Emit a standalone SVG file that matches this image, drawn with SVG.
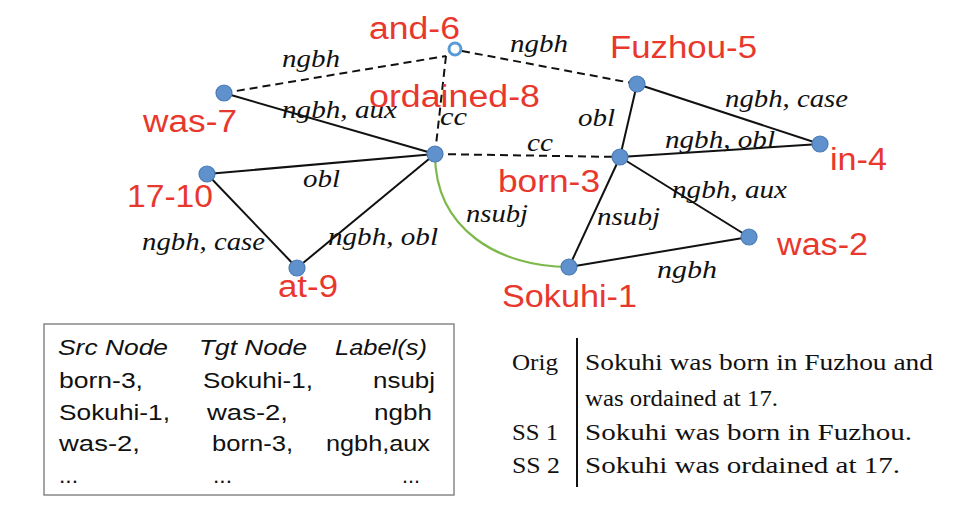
<svg xmlns="http://www.w3.org/2000/svg" width="958" height="510" viewBox="0 0 958 510">
<style>
.e{stroke:#111;stroke-width:2;fill:none}
.d{stroke:#111;stroke-width:2;fill:none;stroke-dasharray:8 5}
.g{stroke:#7cb84a;stroke-width:2.2;fill:none}
.n{fill:#5f92cc;stroke:#4a7bb5;stroke-width:1.2}
.o{fill:#fff;stroke:#5b9bd5;stroke-width:3}
.r{font-family:"Liberation Sans",Arial,sans-serif;font-size:31px;fill:#e8382d}
.l{font-family:"Liberation Serif","Times New Roman",serif;font-style:italic;font-size:26px;fill:#111}
.t{font-family:"Liberation Sans",Arial,sans-serif;font-size:22px;fill:#111}
.ti{font-style:italic}
.s{font-family:"Liberation Serif","Times New Roman",serif;font-size:24px;fill:#111}
</style>
<rect width="958" height="510" fill="#fff"/>
<g id="connectors">
<line class="d" x1="224" y1="93" x2="446" y2="56"/>
<line class="d" x1="446" y1="56" x2="435" y2="154"/>
<line class="d" x1="462" y1="51" x2="637" y2="84"/>
<line class="d" x1="435" y1="154" x2="620" y2="157"/>
<line class="e" x1="224" y1="93" x2="435" y2="154"/>
<line class="e" x1="207" y1="174" x2="435" y2="154"/>
<line class="e" x1="297" y1="268" x2="435" y2="154"/>
<line class="e" x1="207" y1="174" x2="297" y2="268"/>
<line class="e" x1="620" y1="157" x2="637" y2="84"/>
<line class="e" x1="620" y1="157" x2="820" y2="144"/>
<line class="e" x1="637" y1="84" x2="820" y2="144"/>
<line class="e" x1="620" y1="157" x2="749" y2="237"/>
<line class="e" x1="620" y1="157" x2="569" y2="267"/>
<line class="e" x1="569" y1="267" x2="749" y2="237"/>
<path class="g" d="M435,154 C435,230 500,267 569,267"/>
</g>
<g id="edge-labels">
<text class="l" x="282" y="67" textLength="58" lengthAdjust="spacingAndGlyphs">ngbh</text>
<text class="l" x="510" y="52" textLength="58" lengthAdjust="spacingAndGlyphs">ngbh</text>
<text class="l" x="282" y="118" textLength="115" lengthAdjust="spacingAndGlyphs">ngbh, aux</text>
<text class="l" x="440" y="125" textLength="27" lengthAdjust="spacingAndGlyphs">cc</text>
<text class="l" x="527" y="151" textLength="26" lengthAdjust="spacingAndGlyphs">cc</text>
<text class="l" x="578" y="126" textLength="37" lengthAdjust="spacingAndGlyphs">obl</text>
<text class="l" x="725" y="107" textLength="123" lengthAdjust="spacingAndGlyphs">ngbh, case</text>
<text class="l" x="665" y="148" textLength="110" lengthAdjust="spacingAndGlyphs">ngbh, obl</text>
<text class="l" x="303" y="187" textLength="37" lengthAdjust="spacingAndGlyphs">obl</text>
<text class="l" x="142" y="250" textLength="123" lengthAdjust="spacingAndGlyphs">ngbh, case</text>
<text class="l" x="328" y="245" textLength="110" lengthAdjust="spacingAndGlyphs">ngbh, obl</text>
<text class="l" x="466" y="222" textLength="62" lengthAdjust="spacingAndGlyphs">nsubj</text>
<text class="l" x="597" y="225" textLength="63" lengthAdjust="spacingAndGlyphs">nsubj</text>
<text class="l" x="672" y="198" textLength="115" lengthAdjust="spacingAndGlyphs">ngbh, aux</text>
<text class="l" x="657" y="278" textLength="60" lengthAdjust="spacingAndGlyphs">ngbh</text>
</g>
<g id="node-sokuhi-1"><circle class="n" cx="569" cy="267" r="8"/><text class="r" x="502" y="307" textLength="135" lengthAdjust="spacingAndGlyphs">Sokuhi-1</text></g>
<g id="node-was-2"><circle class="n" cx="749" cy="237" r="8"/><text class="r" x="777" y="255" textLength="91" lengthAdjust="spacingAndGlyphs">was-2</text></g>
<g id="node-born-3"><circle class="n" cx="620" cy="157" r="8"/><text class="r" x="498" y="192" textLength="102" lengthAdjust="spacingAndGlyphs">born-3</text></g>
<g id="node-in-4"><circle class="n" cx="820" cy="144" r="8"/><text class="r" x="830" y="170" textLength="57" lengthAdjust="spacingAndGlyphs">in-4</text></g>
<g id="node-fuzhou-5"><circle class="n" cx="637" cy="84" r="8"/><text class="r" x="610" y="58" textLength="147" lengthAdjust="spacingAndGlyphs">Fuzhou-5</text></g>
<g id="node-and-6"><circle class="o" cx="455" cy="49" r="6"/><text class="r" x="369" y="39" textLength="91" lengthAdjust="spacingAndGlyphs">and-6</text></g>
<g id="node-was-7"><circle class="n" cx="224" cy="93" r="8"/><text class="r" x="143" y="132" textLength="94" lengthAdjust="spacingAndGlyphs">was-7</text></g>
<g id="node-ordained-8"><circle class="n" cx="435" cy="154" r="8"/><text class="r" x="369" y="107" textLength="171" lengthAdjust="spacingAndGlyphs">ordained-8</text></g>
<g id="node-at-9"><circle class="n" cx="297" cy="268" r="8"/><text class="r" x="278" y="297" textLength="60" lengthAdjust="spacingAndGlyphs">at-9</text></g>
<g id="node-17-10"><circle class="n" cx="207" cy="174" r="8"/><text class="r" x="127" y="207" textLength="86" lengthAdjust="spacingAndGlyphs">17-10</text></g>
<g id="edge-table">
<rect x="44" y="324" width="410" height="171" fill="#fff" stroke="#888" stroke-width="1.5"/>
<text class="t ti" x="58" y="355" textLength="110" lengthAdjust="spacingAndGlyphs">Src Node</text>
<text class="t ti" x="199" y="355" textLength="108" lengthAdjust="spacingAndGlyphs">Tgt Node</text>
<text class="t ti" x="335" y="355" textLength="92" lengthAdjust="spacingAndGlyphs">Label(s)</text>
<text class="t" x="59" y="388" textLength="84" lengthAdjust="spacingAndGlyphs">born-3,</text>
<text class="t" x="203" y="388" textLength="110" lengthAdjust="spacingAndGlyphs">Sokuhi-1,</text>
<text class="t" x="373" y="388" textLength="62" lengthAdjust="spacingAndGlyphs">nsubj</text>
<text class="t" x="59" y="420" textLength="111" lengthAdjust="spacingAndGlyphs">Sokuhi-1,</text>
<text class="t" x="207" y="420" textLength="81" lengthAdjust="spacingAndGlyphs">was-2,</text>
<text class="t" x="374" y="420" textLength="58" lengthAdjust="spacingAndGlyphs">ngbh</text>
<text class="t" x="59" y="451" textLength="81" lengthAdjust="spacingAndGlyphs">was-2,</text>
<text class="t" x="212" y="451" textLength="81" lengthAdjust="spacingAndGlyphs">born-3,</text>
<text class="t" x="326" y="451" textLength="104" lengthAdjust="spacingAndGlyphs">ngbh,aux</text>
<text class="t" x="59" y="483" textLength="19" lengthAdjust="spacingAndGlyphs">...</text>
<text class="t" x="213" y="483" textLength="19" lengthAdjust="spacingAndGlyphs">...</text>
<text class="t" x="402" y="483" textLength="18" lengthAdjust="spacingAndGlyphs">...</text>
</g>
<g id="sentences">
<line x1="577" y1="338" x2="577" y2="487" stroke="#111" stroke-width="2"/>
<text class="s" x="512" y="370" textLength="46" lengthAdjust="spacingAndGlyphs">Orig</text>
<text class="s" x="585" y="370" textLength="348" lengthAdjust="spacingAndGlyphs">Sokuhi was born in Fuzhou and</text>
<text class="s" x="585" y="406" textLength="193" lengthAdjust="spacingAndGlyphs">was ordained at 17.</text>
<text class="s" x="512" y="440" textLength="46" lengthAdjust="spacingAndGlyphs">SS 1</text>
<text class="s" x="585" y="440" textLength="327" lengthAdjust="spacingAndGlyphs">Sokuhi was born in Fuzhou.</text>
<text class="s" x="512" y="473" textLength="48" lengthAdjust="spacingAndGlyphs">SS 2</text>
<text class="s" x="585" y="473" textLength="315" lengthAdjust="spacingAndGlyphs">Sokuhi was ordained at 17.</text>
</g>
</svg>
